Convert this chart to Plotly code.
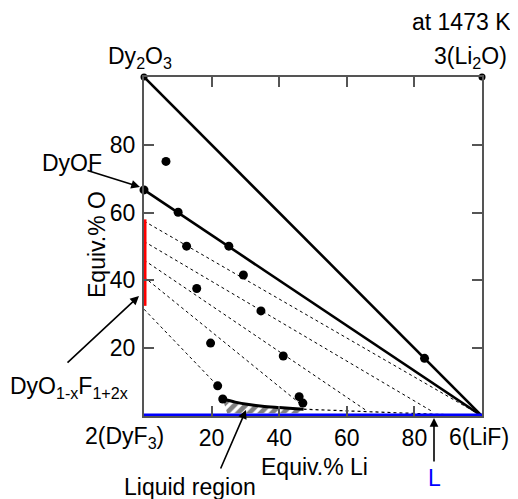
import plotly.graph_objects as go

# ---------------- data ----------------
# composition points (Equiv.% Li, Equiv.% O)
corner_li = [0, 100]
corner_o = [100, 100]

exp_li = [0, 6.5, 10.1, 25.1, 12.6, 29.4, 15.6, 34.6, 19.7, 41.2, 21.8, 23.3, 45.9, 47.0, 83.0]
exp_o = [66.7, 75.1, 60.1, 50.1, 50.1, 41.6, 37.6, 31.0, 21.5, 17.7, 8.9, 5.0, 5.7, 3.8, 17.0]

# solid joins: Dy2O3 -> LiF, DyOF -> LiF
join_start_o = [100, 66.7]
join_end_li = [100, 100]
join_end_o = [0, 0]

# dashed tie lines from the DyO1-xF1+2x solid solution
tie_start_o = [57.5, 51.5, 46.0, 41.0, 31.5]
tie_end_li = [100, 85.5, 65.5, 46.0, 21.8]
tie_end_o = [0, 1.2, 1.8, 3.8, 8.9]

# liquid region boundary
liq_top_li = [23.3, 27, 31, 35, 40, 44, 47.2]
liq_top_o = [5.0, 4.1, 3.4, 2.9, 2.5, 2.2, 2.0]
liq_bot_li = [46.0, 24.6]
liq_bot_o = [0.8, 0.8]

# dotted liquidus along bottom
dot_li = [47.2, 100]
dot_o = [2.0, 0]

# solid solution range DyO1-xF1+2x on the O axis
ss_o = [32.5, 58.0]

tick_vals = [20, 40, 60, 80]
tick_text = ["20", "40", "60", "80"]

FONT = "Liberation Sans, Arial, sans-serif"
FS = 23

OFF = 8  # page body margin
W, H = 518 - OFF, 499 - OFF
L, R, T, B = 144 - OFF, 36, 77 - OFF, 83
pw, ph = W - L - R, H - T - B


def paper(xp, yp):
    """screen pixel -> paper coordinates"""
    return (xp - OFF - L) / pw, (OFF + H - B - yp) / ph


fig = go.Figure()

# solid joins
for so, el, eo in zip(join_start_o, join_end_li, join_end_o):
    fig.add_trace(go.Scatter(x=[0, el], y=[so, eo], mode="lines",
                             line=dict(color="black", width=2.6),
                             hoverinfo="skip", cliponaxis=False))

# tie lines
for so, el, eo in zip(tie_start_o, tie_end_li, tie_end_o):
    fig.add_trace(go.Scatter(x=[0, el], y=[so, eo], mode="lines",
                             line=dict(color="black", width=1, dash="3px,3px"),
                             hoverinfo="skip"))

# dotted line
fig.add_trace(go.Scatter(x=dot_li, y=dot_o, mode="lines",
                         line=dict(color="black", width=1.2, dash="dot"),
                         hoverinfo="skip"))

# liquid region hatched
fig.add_trace(go.Scatter(x=liq_top_li + liq_bot_li + liq_top_li[:1],
                         y=liq_top_o + liq_bot_o + liq_top_o[:1],
                         mode="lines", fill="toself",
                         fillcolor="white",
                         fillpattern=dict(shape="/", fgcolor="black", bgcolor="white",
                                          size=8, solidity=0.6),
                         line=dict(color="rgba(0,0,0,0)", width=0),
                         hoverinfo="skip"))
fig.add_trace(go.Scatter(x=liq_top_li, y=liq_top_o, mode="lines",
                         line=dict(color="black", width=3, shape="spline"),
                         hoverinfo="skip"))

# blue liquid line along bottom
fig.add_trace(go.Scatter(x=[0, 100], y=[0, 0], mode="lines",
                         line=dict(color="#0000ff", width=5),
                         hoverinfo="skip", cliponaxis=False))

# red solid-solution bar
fig.add_trace(go.Scatter(x=[0, 0], y=ss_o, mode="lines",
                         line=dict(color="#ff0000", width=5),
                         hoverinfo="skip", cliponaxis=False))

# markers
fig.add_trace(go.Scatter(x=exp_li, y=exp_o, mode="markers",
                         marker=dict(color="black", size=9),
                         hoverinfo="skip", cliponaxis=False))
fig.add_trace(go.Scatter(x=corner_li, y=corner_o, mode="markers",
                         marker=dict(color="black", size=7),
                         hoverinfo="skip", cliponaxis=False))

axis_common = dict(range=[0, 100], showgrid=False, zeroline=False,
                   showline=True, linecolor="#555555", linewidth=2,
                   mirror="ticks", ticks="inside", ticklen=10, tickwidth=2,
                   tickcolor="#555555", tickvals=tick_vals, ticktext=tick_text,
                   tickfont=dict(family=FONT, size=FS, color="black"),
                   fixedrange=True)

fig.update_layout(
    width=W, height=H,
    margin=dict(l=L, r=R, t=T, b=B),
    paper_bgcolor="white", plot_bgcolor="white",
    showlegend=False,
    xaxis=dict(axis_common),
    yaxis=dict(axis_common, ticklabelstandoff=2),
    font=dict(family=FONT, size=FS, color="black"),
)


def text(s, xp, yp, color="black", angle=0):
    x, y = paper(xp, yp)
    fig.add_annotation(x=x, y=y, xref="paper", yref="paper", text=s, showarrow=False,
                       font=dict(family=FONT, size=FS, color=color),
                       textangle=angle, xanchor="center", yanchor="middle")


def arrow(hx, hy, tx, ty):
    x, y = paper(hx, hy)
    fig.add_annotation(x=x, y=y, xref="paper", yref="paper", text="", showarrow=True,
                       ax=tx - hx, ay=ty - hy, arrowhead=2, arrowsize=1.1,
                       arrowwidth=1.6, arrowcolor="black", standoff=0)


text("at 1473 K", 461, 22)
text("3(Li<sub>2</sub>O)", 470, 57)
text("Dy<sub>2</sub>O<sub>3</sub>", 140, 57)
text("DyOF", 72, 163)
text("DyO<sub>1-x</sub>F<sub>1+2x</sub>", 69, 387)
text("2(DyF<sub>3</sub>)", 124, 437)
text("6(LiF)", 479, 437)
text("Equiv.% Li", 314, 467)
text("Equiv.% O", 97, 245, angle=-90)
text("Liquid region", 190, 487)
text("L", 434, 478, color="#0000ff")

arrow(140, 187, 86, 170)
arrow(139, 296, 66, 364)
arrow(246, 410, 220, 470)
arrow(434, 418, 434, 463)

fig.write_html("out.html")
